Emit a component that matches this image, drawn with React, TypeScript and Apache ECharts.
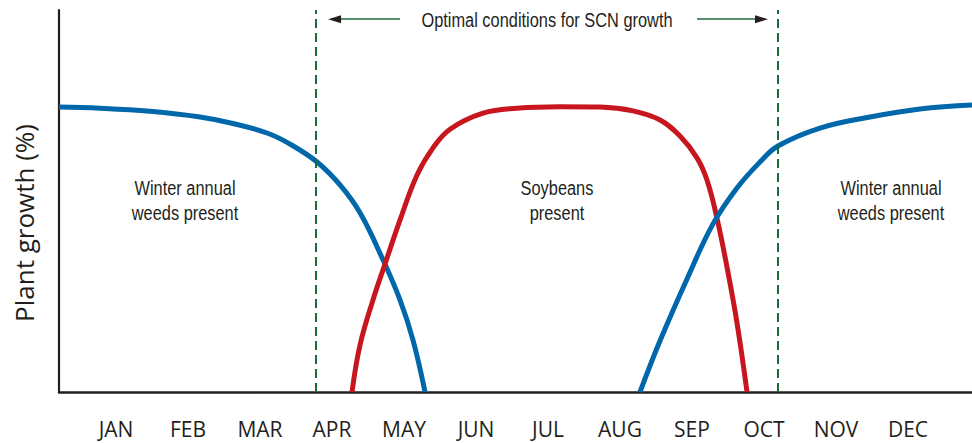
import React, { useEffect, useRef } from "react";
import * as echarts from "echarts";

// Month tick labels (axis values 1..12)
const months = ["JAN", "FEB", "MAR", "APR", "MAY", "JUN", "JUL", "AUG", "SEP", "OCT", "NOV", "DEC"];
const monthValues = [1, 2, 3, 4, 5, 6, 7, 8, 9, 10, 11, 12];

// Winter annual weeds (early year), [month position, plant growth %]
const winterWeedsEarly: [number, number][] = [
  [0.208, 74.6], [0.778, 74.3], [1.472, 73.5], [2.167, 72.0], [2.625, 70.3],
  [3.097, 67.8], [3.417, 64.9], [3.792, 60.2], [4.111, 54.2], [4.389, 46.9],
  [4.708, 34.6], [4.944, 24.1], [5.125, 13.6], [5.292, 0],
];

// Soybeans
const soybeans: [number, number][] = [
  [4.278, 0], [4.389, 12.3], [4.569, 24.1], [4.736, 33.5], [4.944, 45.0],
  [5.181, 56.8], [5.403, 63.9], [5.639, 68.8], [6.097, 73.0], [6.569, 74.3],
  [7.167, 74.7], [7.722, 74.6], [8.181, 73.6], [8.556, 71.2], [8.833, 67.0],
  [9.069, 61.3], [9.208, 55.5], [9.347, 45.5], [9.486, 32.7], [9.625, 18.1],
  [9.764, 0],
];

// Winter annual weeds (late year)
const winterWeedsLate: [number, number][] = [
  [8.278, 0], [8.556, 13.4], [8.931, 29.6], [9.292, 44.0], [9.625, 53.4],
  [9.944, 60.2], [10.194, 64.4], [10.778, 69.1], [11.472, 72.0], [12.167, 74.1],
  [12.889, 75.1],
];

// Optimal SCN window (dashed lines) and arrow spans
const scnWindow = [3.778, 10.194];
const arrowLeft = [4.035, 4.944];
const arrowRight = [9.069, 9.965];
const arrowLevel = 97.6;

const BLUE = "#0068aa";
const RED = "#c8161e";
const GREEN = "#1c6b3a";
const INK = "#231f20";
const NARROW = '"Liberation Sans", Arial, sans-serif';
const NARROW_SCALE = 0.78;

export default function App() {
  const ref = useRef<HTMLDivElement>(null);
  useEffect(() => {
    if (!ref.current) return;
    const chart = echarts.init(ref.current, undefined, { renderer: "svg" });
    const lineCommon = {
      type: "line" as const,
      smooth: 0.4,
      showSymbol: false,
      symbol: "none",
      silent: true,
    };
    const regionText = (x: number, text: string) => ({
      type: "text",
      x,
      y: 200,
      scaleX: NARROW_SCALE,
      style: {
        text,
        fill: INK,
        fontFamily: NARROW,
        fontSize: 21,
        lineHeight: 25,
        align: "center",
        verticalAlign: "middle",
      },
    });
    chart.setOption({
      animation: false,
      grid: { left: 59, right: 0, top: 10, bottom: 51 },
      xAxis: {
        type: "value",
        min: 0.208,
        max: 12.889,
        axisLine: { show: true, lineStyle: { color: INK, width: 2.5 } },
        axisTick: { show: false },
        splitLine: { show: false },
        axisLabel: {
          customValues: monthValues,
          formatter: (v: number) => months[Math.round(v) - 1] ?? "",
          color: INK,
          fontFamily: "Open Sans",
          fontSize: 21,
          margin: 26,
        },
      },
      yAxis: {
        type: "value",
        min: 0,
        max: 100,
        axisLine: { show: true, lineStyle: { color: INK, width: 2.2 } },
        axisTick: { show: false },
        axisLabel: { show: false },
        splitLine: { show: false },
      },
      series: [
        {
          ...lineCommon,
          name: "Winter annual weeds",
          data: winterWeedsEarly,
          lineStyle: { color: BLUE, width: 5 },
          markLine: {
            silent: true,
            symbol: "none",
            label: { show: false },
            lineStyle: { color: GREEN, width: 2, type: [9, 5] },
            data: scnWindow.map((x) => ({ xAxis: x })),
          },
        },
        {
          ...lineCommon,
          name: "Soybeans",
          data: soybeans,
          lineStyle: { color: RED, width: 5 },
          markLine: {
            silent: true,
            symbol: "none",
            label: { show: false },
            lineStyle: { color: GREEN, width: 1.6, type: "solid" },
            data: [
              [{ coord: [arrowLeft[0], arrowLevel] }, { coord: [arrowLeft[1], arrowLevel] }],
              [{ coord: [arrowRight[0], arrowLevel] }, { coord: [arrowRight[1], arrowLevel] }],
            ],
          },
          markPoint: {
            silent: true,
            label: { show: false },
            symbol: "triangle",
            symbolSize: [8, 13],
            itemStyle: { color: INK },
            data: [
              { coord: [arrowLeft[0], arrowLevel], symbolRotate: 90 },
              { coord: [arrowRight[1], arrowLevel], symbolRotate: -90 },
            ],
          },
        },
        {
          ...lineCommon,
          name: "Winter annual weeds (late)",
          data: winterWeedsLate,
          lineStyle: { color: BLUE, width: 5 },
        },
      ],
      graphic: [
        {
          type: "text",
          x: 24,
          y: 223,
          rotation: Math.PI / 2,
          style: {
            text: "Plant growth (%)",
            fill: INK,
            fontFamily: "Open Sans",
            fontSize: 26,
            align: "center",
            verticalAlign: "middle",
          },
        },
        {
          type: "text",
          x: 547,
          y: 20,
          scaleX: NARROW_SCALE,
          style: {
            text: "Optimal conditions for SCN growth",
            fill: INK,
            fontFamily: NARROW,
            fontSize: 21,
            align: "center",
            verticalAlign: "middle",
          },
        },
        regionText(185, "Winter annual\nweeds present"),
        regionText(557, "Soybeans\npresent"),
        regionText(891, "Winter annual\nweeds present"),
      ],
    });
    return () => chart.dispose();
  }, []);
  return (
    <div
      ref={ref}
      style={{ position: "fixed", left: 0, top: 0, width: 972, height: 443, background: "#fff" }}
    />
  );
}
